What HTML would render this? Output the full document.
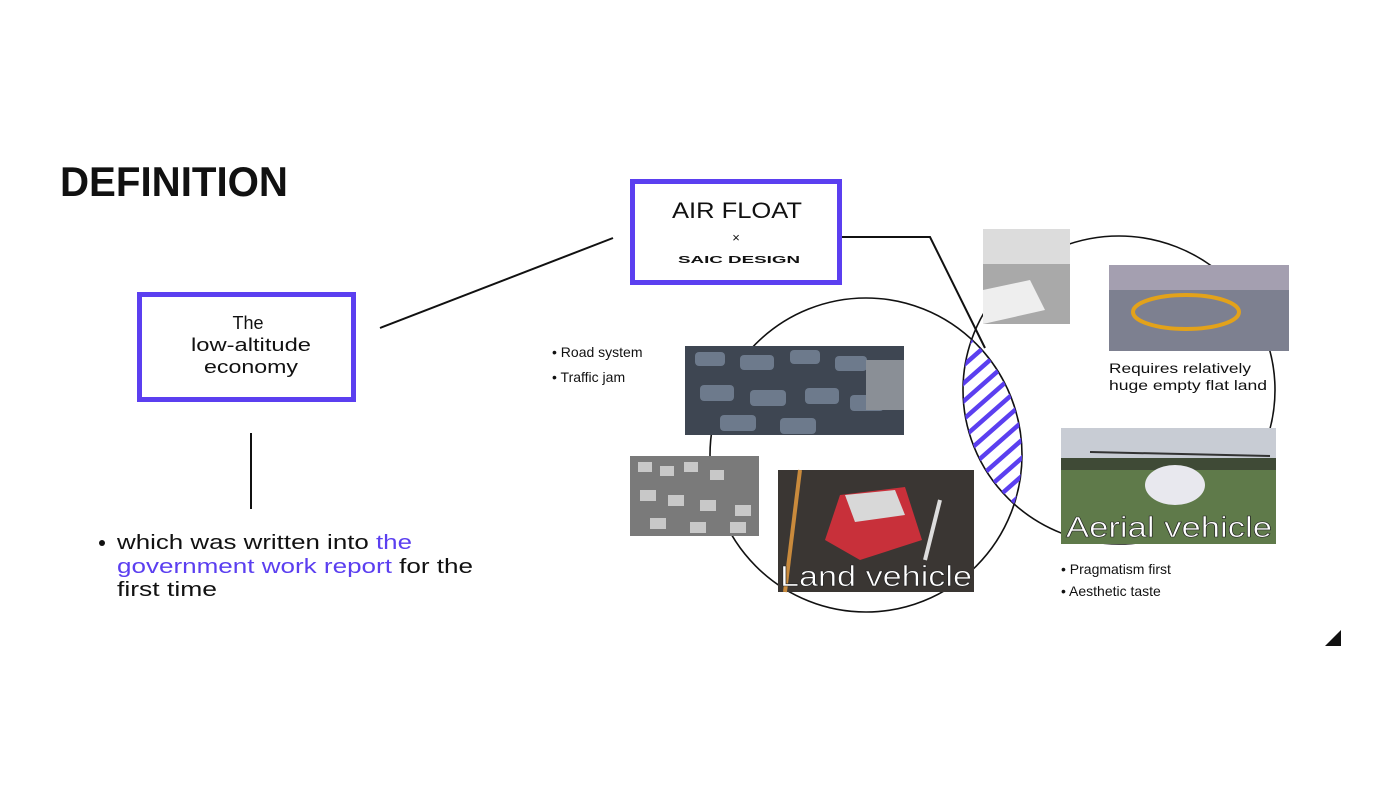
<!DOCTYPE html>
<html><head><meta charset="utf-8"><style>
html,body{margin:0;padding:0;background:#fff;}
svg{display:block;font-family:"Liberation Sans","DejaVu Sans",sans-serif;}
</style></head><body>
<svg width="1400" height="788" viewBox="0 0 1400 788" xmlns="http://www.w3.org/2000/svg">
<defs>
<clipPath id="lc"><ellipse cx="866" cy="455" rx="156" ry="157"/></clipPath>
<clipPath id="rc"><ellipse cx="1119" cy="390" rx="156" ry="154"/></clipPath>
</defs>
<rect width="1400" height="788" fill="#fff"/>
<text x="60" y="196" font-size="42" font-weight="bold" textLength="228" lengthAdjust="spacingAndGlyphs" fill="#111">DEFINITION</text>
<rect x="139.5" y="294.5" width="214" height="105" fill="none" stroke="#5b3ff0" stroke-width="5"/>
<text x="248" y="329" font-size="18" text-anchor="middle" fill="#111">The</text>
<text x="251" y="351" font-size="18" text-anchor="middle" textLength="120" lengthAdjust="spacingAndGlyphs" fill="#111">low-altitude</text>
<text x="251" y="373" font-size="18" text-anchor="middle" textLength="94" lengthAdjust="spacingAndGlyphs" fill="#111">economy</text>
<line x1="380" y1="328" x2="613" y2="238" stroke="#111" stroke-width="2"/>
<line x1="251" y1="433" x2="251" y2="509" stroke="#111" stroke-width="2"/>
<circle cx="102" cy="543" r="3" fill="#111"/>
<text x="117" y="549" font-size="20" textLength="295" lengthAdjust="spacingAndGlyphs" fill="#111">which was written into <tspan fill="#5b3ff0">the</tspan></text>
<text x="117" y="573" font-size="20" textLength="356" lengthAdjust="spacingAndGlyphs" fill="#5b3ff0">government work report <tspan fill="#111">for the</tspan></text>
<text x="117" y="596" font-size="20" textLength="100" lengthAdjust="spacingAndGlyphs" fill="#111">first time</text>
<rect x="632.5" y="181.5" width="207" height="101" fill="none" stroke="#5b3ff0" stroke-width="5"/>
<text x="672" y="218" font-size="22" textLength="130" lengthAdjust="spacingAndGlyphs" fill="#111">AIR FLOAT</text>
<text x="736" y="242" font-size="13" text-anchor="middle" fill="#111">×</text>
<text x="678" y="263" font-size="10" font-weight="bold" textLength="122" lengthAdjust="spacingAndGlyphs" fill="#111">SAIC DESIGN</text>
<polyline points="842,237 930,237 985,348" fill="none" stroke="#111" stroke-width="2"/>
<ellipse cx="866" cy="455" rx="156" ry="157" fill="none" stroke="#111" stroke-width="1.6"/>
<ellipse cx="1119" cy="390" rx="156" ry="154" fill="none" stroke="#111" stroke-width="1.6"/>
<g clip-path="url(#lc)"><g clip-path="url(#rc)" stroke="#5b3ff0" stroke-width="4.5">
<line x1="940" y1="350" x2="1040" y2="262"/>
<line x1="940" y1="368" x2="1040" y2="280"/>
<line x1="940" y1="386" x2="1040" y2="298"/>
<line x1="940" y1="404" x2="1040" y2="316"/>
<line x1="940" y1="422" x2="1040" y2="334"/>
<line x1="940" y1="440" x2="1040" y2="352"/>
<line x1="940" y1="458" x2="1040" y2="370"/>
<line x1="940" y1="476" x2="1040" y2="388"/>
<line x1="940" y1="494" x2="1040" y2="406"/>
<line x1="940" y1="512" x2="1040" y2="424"/>
<line x1="940" y1="530" x2="1040" y2="442"/>
<line x1="940" y1="548" x2="1040" y2="460"/>
<line x1="940" y1="566" x2="1040" y2="478"/>
<line x1="940" y1="584" x2="1040" y2="496"/>
</g></g>
<text x="552" y="357" font-size="14" fill="#111">•  Road system</text>
<text x="552" y="382" font-size="14" fill="#111">• Traffic jam</text>
<rect x="685" y="346" width="219" height="89" fill="#3e4652"/>
<g fill="#6d7a8c"><rect x="695" y="352" width="30" height="14" rx="4"/><rect x="740" y="355" width="34" height="15" rx="4"/><rect x="790" y="350" width="30" height="14" rx="4"/><rect x="835" y="356" width="32" height="15" rx="4"/><rect x="700" y="385" width="34" height="16" rx="4"/><rect x="750" y="390" width="36" height="16" rx="4"/><rect x="805" y="388" width="34" height="16" rx="4"/><rect x="850" y="395" width="34" height="16" rx="4"/><rect x="720" y="415" width="36" height="16" rx="4"/><rect x="780" y="418" width="36" height="16" rx="4"/></g>
<rect x="866" y="360" width="38" height="50" fill="#8a8f96"/>
<rect x="630" y="456" width="129" height="80" fill="#7a7a7a"/>
<g fill="#c8c8c8"><rect x="638" y="462" width="14" height="10"/><rect x="660" y="466" width="14" height="10"/><rect x="684" y="462" width="14" height="10"/><rect x="710" y="470" width="14" height="10"/><rect x="640" y="490" width="16" height="11"/><rect x="668" y="495" width="16" height="11"/><rect x="700" y="500" width="16" height="11"/><rect x="735" y="505" width="16" height="11"/><rect x="650" y="518" width="16" height="11"/><rect x="690" y="522" width="16" height="11"/><rect x="730" y="522" width="16" height="11"/></g>
<rect x="778" y="470" width="196" height="122" fill="#3a3633"/>
<line x1="800" y1="470" x2="785" y2="592" stroke="#c98a3c" stroke-width="4"/>
<line x1="940" y1="500" x2="925" y2="560" stroke="#ddd" stroke-width="4"/>
<polygon points="840,495 905,487 922,540 860,560 825,540" fill="#c8303a"/>
<polygon points="845,495 895,490 905,515 855,522" fill="#d8d8d8"/>
<text x="780" y="586" font-size="29" textLength="192" lengthAdjust="spacingAndGlyphs" fill="#fff" stroke="#222" stroke-width="0.6">Land vehicle</text>
<rect x="983" y="229" width="87" height="95" fill="#a9a9a9"/>
<rect x="983" y="229" width="87" height="35" fill="#dcdcdc"/>
<polygon points="983,290 1030,280 1045,310 983,324" fill="#eee"/>
<rect x="1109" y="265" width="180" height="86" fill="#7d8090"/>
<rect x="1109" y="265" width="180" height="25" fill="#a49fb0"/>
<ellipse cx="1186" cy="312" rx="53" ry="17" fill="none" stroke="#e3a21a" stroke-width="4"/>
<text x="1109" y="373" font-size="14" textLength="142" lengthAdjust="spacingAndGlyphs" fill="#111">Requires relatively</text>
<text x="1109" y="390" font-size="14" textLength="158" lengthAdjust="spacingAndGlyphs" fill="#111">huge empty flat land</text>
<rect x="1061" y="428" width="215" height="116" fill="#5f7a4a"/>
<rect x="1061" y="428" width="215" height="30" fill="#c8ccd4"/>
<rect x="1061" y="458" width="215" height="12" fill="#3f4a36"/>
<ellipse cx="1175" cy="485" rx="30" ry="20" fill="#e8e8ee"/>
<line x1="1090" y1="452" x2="1270" y2="456" stroke="#333" stroke-width="2"/>
<text x="1066" y="537" font-size="29" textLength="206" lengthAdjust="spacingAndGlyphs" fill="#fff" stroke="#222" stroke-width="0.6">Aerial vehicle</text>
<text x="1061" y="574" font-size="14" fill="#111">•  Pragmatism first</text>
<text x="1061" y="596" font-size="14" fill="#111">•  Aesthetic taste</text>
<polygon points="1325,646 1341,630 1341,646" fill="#111"/>
</svg>
</body></html>
